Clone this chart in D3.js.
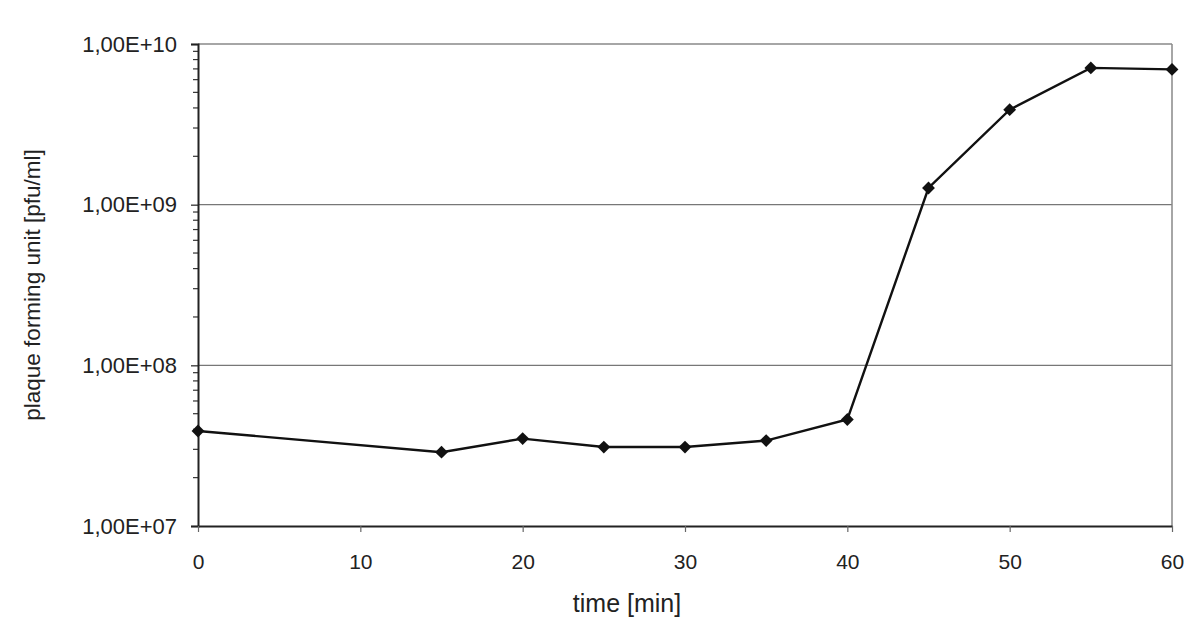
<!DOCTYPE html>
<html>
  <head>
    <meta charset="utf-8">
    <title>plaque forming unit</title>
    <style>
      body { margin: 0; background: #fff; }
      svg text { font-family: "Liberation Sans", Arial, sans-serif; fill: #222; }
    </style>
    <script src="https://cdn.jsdelivr.net/npm/d3@7"></script>
  </head>
  <body>
    <svg id="chart" width="1200" height="642"></svg>
    <script>
      // data
      var times = [0, 15, 20, 25, 30, 35, 40, 45, 50, 55, 60];
      var pfu = [3.9e7, 2.88e7, 3.5e7, 3.1e7, 3.1e7, 3.4e7, 4.6e7, 1.27e9, 3.9e9, 7.1e9, 6.95e9];
      var xTicks = [0, 10, 20, 30, 40, 50, 60];
      var yTicks = [1e7, 1e8, 1e9, 1e10];
      var yTickLabels = ["1,00E+07", "1,00E+08", "1,00E+09", "1,00E+10"];

      var svg = d3.select('#chart');
      var m = { left: 198, right: 28, top: 44, bottom: 116 };
      var w = 1200 - m.left - m.right, h = 642 - m.top - m.bottom;

      var x = d3.scaleLinear().domain([0, 60]).range([0, w]);
      var y = d3.scaleLog().domain([1e7, 1e10]).range([h, 0]);

      var g = svg.append('g').attr('transform', 'translate(' + m.left + ',' + m.top + ')');

      // grid lines + frame
      g.selectAll('.grid').data(yTicks.slice(1, 3)).enter().append('line')
        .attr('x1', 0).attr('x2', w)
        .attr('y1', function(d) { return y(d); }).attr('y2', function(d) { return y(d); })
        .attr('stroke', '#777').attr('stroke-width', 1.2);
      g.append('line').attr('x1', 0).attr('x2', w).attr('y1', 0).attr('y2', 0)
        .attr('stroke', '#888').attr('stroke-width', 1.5);
      g.append('line').attr('x1', w).attr('x2', w).attr('y1', 0).attr('y2', h)
        .attr('stroke', '#888').attr('stroke-width', 1.5);

      // minor log ticks on the left
      var minor = [];
      yTicks.slice(0, 3).forEach(function(d) { for (var k = 2; k <= 9; k++) minor.push(d * k); });
      g.selectAll('.minor').data(minor).enter().append('line')
        .attr('x1', -5).attr('x2', 0)
        .attr('y1', function(d) { return y(d); }).attr('y2', function(d) { return y(d); })
        .attr('stroke', '#333').attr('stroke-width', 1.2);

      var yAxis = d3.axisLeft(y).tickValues(yTicks)
        .tickFormat(function(d, i) { return yTickLabels[i]; }).tickSize(7).tickPadding(14);
      var ya = g.append('g').call(yAxis);
      ya.select('.domain').attr('stroke', '#222').attr('stroke-width', 2);
      ya.selectAll('.tick line').attr('stroke', '#222').attr('stroke-width', 1.2);
      ya.selectAll('text').style('font-size', '22px').attr('fill', '#222');

      var xAxis = d3.axisBottom(x).tickValues(xTicks).tickSize(6).tickPadding(22).tickSizeOuter(0);
      var xa = g.append('g').attr('transform', 'translate(0,' + h + ')').call(xAxis);
      xa.select('.domain').attr('stroke', '#222').attr('stroke-width', 2);
      xa.selectAll('.tick line').attr('stroke', '#666').attr('stroke-width', 1.2);
      xa.selectAll('text').style('font-size', '21px').attr('fill', '#222');

      var pts = times.map(function(t, i) { return [t, pfu[i]]; });
      var line = d3.line().x(function(d) { return x(d[0]); }).y(function(d) { return y(d[1]); });
      g.append('path').datum(pts).attr('d', line)
        .attr('fill', 'none').attr('stroke', '#111').attr('stroke-width', 2.4);

      g.selectAll('.pt').data(pts).enter().append('path')
        .attr('d', d3.symbol().type(d3.symbolDiamond2).size(105))
        .attr('transform', function(d) { return 'translate(' + x(d[0]) + ',' + y(d[1]) + ')'; })
        .attr('fill', '#111');

      svg.append('text').attr('x', 627).attr('y', 612)
        .attr('text-anchor', 'middle').style('font-size', '25px').text('time [min]');
      svg.append('text').attr('transform', 'translate(40,' + (m.top + h / 2) + ') rotate(-90)')
        .attr('text-anchor', 'middle').style('font-size', '22.5px').text('plaque forming unit [pfu/ml]');
    </script>
  </body>
</html>
